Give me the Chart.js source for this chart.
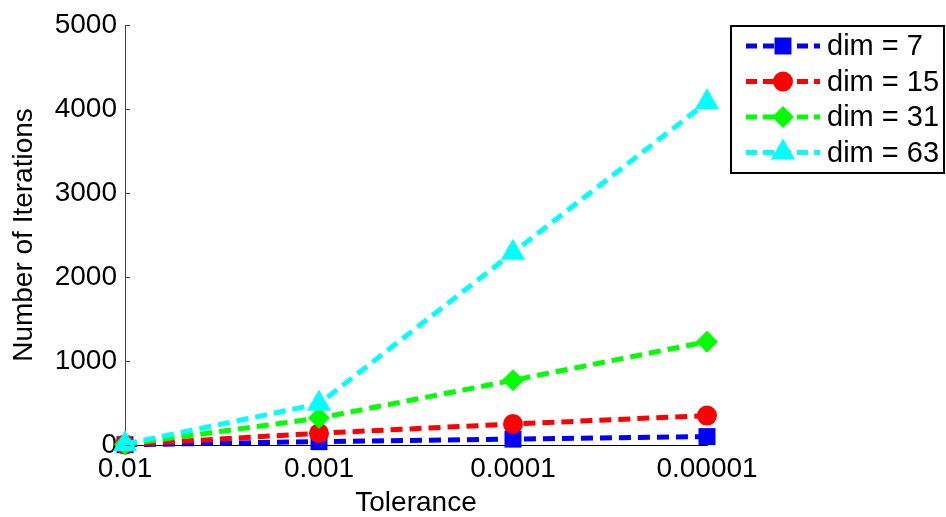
<!DOCTYPE html>
<html>
<head>
<meta charset="utf-8">
<script src="https://cdn.jsdelivr.net/npm/chart.js@4/dist/chart.umd.min.js"></script>
<style>
  html, body { margin: 0; padding: 0; background: #fff; }
  #wrap { position: relative; width: 946px; height: 517px; }
</style>
</head>
<body>
<div id="wrap"><canvas id="itChart"></canvas></div>
<script>
(function () {
  'use strict';

  var TOLERANCES = ['0.01', '0.001', '0.0001', '0.00001'];
  var DIM_7 = [3, 40, 70, 100];
  var DIM_15 = [5, 140, 250, 350];
  var DIM_31 = [8, 320, 770, 1230];
  var DIM_63 = [10, 490, 2290, 4080];
  var Y_TICKS = [0, 1000, 2000, 3000, 4000, 5000];

  var FONT = "'Liberation Sans', Arial, sans-serif";

  function series(label, data, color, style, radius, order) {
    return {
      label: label, data: data, borderColor: color, backgroundColor: color,
      borderWidth: 5, borderDash: [12, 7], pointStyle: style, pointRadius: radius,
      pointHoverRadius: radius, pointBackgroundColor: color, pointBorderColor: color,
      pointBorderWidth: 0, tension: 0, fill: false, clip: false, order: order
    };
  }

  // legend box in the top right corner, like the matlab one
  var boxLegend = {
    id: 'boxLegend',
    afterDraw: function (chart) {
      var ctx = chart.ctx;
      var x0 = 731, y0 = 26, w = 213, h = 147;
      ctx.save();
      ctx.fillStyle = '#fff';
      ctx.fillRect(x0, y0, w, h);
      ctx.strokeStyle = '#000';
      ctx.lineWidth = 2;
      ctx.strokeRect(x0, y0, w, h);
      ctx.font = '29px ' + FONT;
      ctx.textBaseline = 'middle';
      ctx.textAlign = 'left';
      chart.data.datasets.forEach(function (ds, i) {
        var cy = 46 + i * 35.5;
        ctx.strokeStyle = ds.borderColor;
        ctx.lineWidth = ds.borderWidth;
        ctx.setLineDash([11, 6]);
        ctx.beginPath();
        ctx.moveTo(746, cy);
        ctx.lineTo(820, cy);
        ctx.stroke();
        ctx.setLineDash([]);
        ctx.fillStyle = ds.backgroundColor;
        Chart.helpers.drawPoint(ctx, { pointStyle: ds.pointStyle, radius: ds.pointRadius, borderWidth: 0 }, 783, cy);
        ctx.fillStyle = '#000';
        ctx.fillText(ds.label, 827, cy + 1);
      });
      ctx.restore();
    }
  };

  // matlab style inward tick marks on the y axis
  var inTicks = {
    id: 'inTicks',
    afterDatasetsDraw: function (chart) {
      var y = chart.scales.y, ctx = chart.ctx, left = chart.chartArea.left;
      ctx.save();
      ctx.strokeStyle = '#444';
      ctx.lineWidth = 1;
      Y_TICKS.forEach(function (v) {
        var py = Math.round(y.getPixelForValue(v)) + 0.5;
        ctx.beginPath();
        ctx.moveTo(left, py);
        ctx.lineTo(left + 5, py);
        ctx.stroke();
      });
      ctx.restore();
    }
  };

  new Chart(document.getElementById('itChart'), {
    type: 'line',
    data: {
      labels: TOLERANCES,
      datasets: [
        series('dim = 7', DIM_7, '#0000ff', 'rect', 12, 4),
        series('dim = 15', DIM_15, '#ff0000', 'circle', 10, 3),
        series('dim = 31', DIM_31, '#00ff00', 'rectRot', 11, 2),
        series('dim = 63', DIM_63, '#00ffff', 'triangle', 14, 1)
      ]
    },
    options: {
      responsive: true,
      maintainAspectRatio: false,
      animation: false,
      layout: { padding: { top: 25, right: 239, left: 0, bottom: 0 } },
      plugins: { legend: { display: false }, tooltip: { enabled: false } },
      scales: {
        x: {
          type: 'category',
          offset: false,
          afterFit: function (s) { s.height = 72; },
          grid: { display: true, drawOnChartArea: false, drawTicks: false, color: '#000' },
          border: { display: true, color: '#000', width: 1 },
          ticks: { padding: 7, color: '#000', font: { size: 28, family: FONT }, maxRotation: 0, autoSkip: false },
          title: { display: true, text: 'Tolerance', color: '#000', font: { size: 28, family: FONT, lineHeight: 1.0 }, padding: { top: 0, bottom: 0 } }
        },
        y: {
          min: 0,
          max: 5000,
          afterFit: function (s) { s.width = 125; },
          afterBuildTicks: function (s) { s.ticks = Y_TICKS.map(function (v) { return { value: v }; }); },
          grid: { display: true, drawOnChartArea: false, drawTicks: false },
          border: { display: true, color: '#444', width: 1 },
          ticks: { padding: 8, color: '#000', font: { size: 28, family: FONT }, callback: function (v) { return String(v); } },
          title: { display: true, text: 'Number of Iterations', color: '#000', font: { size: 28, family: FONT, lineHeight: 1.2 }, padding: { top: 7, bottom: 0 } }
        }
      }
    },
    plugins: [inTicks, boxLegend]
  });
})();
</script>
</body>
</html>
